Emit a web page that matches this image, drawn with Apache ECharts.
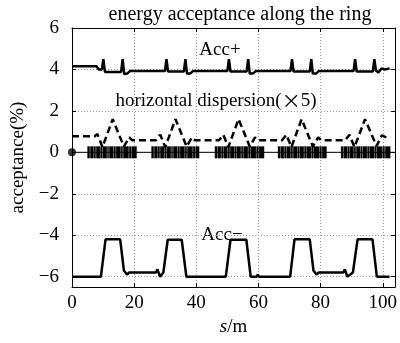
<!DOCTYPE html>
<html>
<head>
<meta charset="utf-8">
<script src="https://cdn.jsdelivr.net/npm/echarts@6/dist/echarts.min.js"></script>
<style>
  html, body { margin: 0; padding: 0; background: #fff; }
  #main { width: 400px; height: 343px; }
</style>
</head>
<body>
<div id="main"></div>
<script>
// s (m) and acceptance (%)
var accPlus = [
  [0, 4.15], [7.9, 4.15], [8.6, 4.0], [9.6, 4.0], [10.1, 4.5], [10.6, 3.88], [15.8, 3.88], [16.3, 4.5], [16.8, 3.78], [17.8, 3.8], [18.6, 3.92],
  [29.9, 3.92], [30.4, 4.5], [30.9, 3.9], [36.0, 3.9], [36.5, 4.5], [37.0, 3.8], [38.0, 3.8], [38.9, 3.92],
  [50.0, 3.92], [50.5, 4.5], [51.0, 3.9], [56.2, 3.9], [56.7, 4.5], [57.2, 3.8], [58.2, 3.8], [59.1, 3.92],
  [70.3, 3.92], [70.8, 4.5], [71.3, 3.9], [76.5, 3.9], [77.0, 4.5], [77.5, 3.8], [78.5, 3.8], [79.4, 3.92],
  [90.6, 3.92], [91.1, 4.5], [91.6, 3.9], [96.8, 3.9], [97.3, 4.5], [97.8, 3.95], [98.6, 3.85], [99.6, 4.05], [100.5, 4.0], [102.2, 4.05]
];

var dispersion5 = [
  [0, 0.78], [7.3, 0.78], [8.2, 0.88], [9.8, 0.25], [13.1, 1.6], [16.7, 0.28], [18.4, 0.72], [19.4, 0.58],
  [27.0, 0.58], [28.4, 0.85], [30.0, 0.25], [33.3, 1.6], [36.9, 0.28], [38.6, 0.72], [39.6, 0.58],
  [47.3, 0.58], [48.7, 0.85], [50.3, 0.25], [53.6, 1.6], [57.2, 0.28], [58.9, 0.72], [59.9, 0.58],
  [67.6, 0.58], [69.0, 0.85], [70.6, 0.25], [73.9, 1.6], [77.5, 0.28], [79.2, 0.72], [80.2, 0.58],
  [87.9, 0.58], [89.3, 0.85], [90.9, 0.25], [94.3, 1.6], [98.0, 0.3], [99.7, 0.82], [101.8, 0.68]
];

var accMinus = [
  [0, -6.0], [9.3, -6.0], [10.8, -4.2], [15.5, -4.2], [16.7, -5.7], [17.2, -5.75], [17.7, -5.9], [18.4, -5.8],
  [27.0, -5.8], [27.5, -5.65], [28.3, -6.0], [28.8, -5.95], [29.4, -5.8], [30.8, -4.22], [35.3, -4.22], [36.8, -6.0],
  [49.5, -6.0], [51.0, -4.22], [56.1, -4.22], [57.5, -6.0], [59.4, -6.0], [59.8, -5.9], [60.2, -6.0],
  [70.2, -6.0], [71.6, -4.2], [76.5, -4.2], [77.7, -5.7], [78.2, -5.8], [78.7, -5.9], [79.4, -5.8],
  [87.3, -5.8], [87.8, -5.65], [88.6, -6.0], [89.2, -5.95], [90.4, -5.8], [91.9, -4.2], [96.7, -4.2], [98.1, -6.0], [102.2, -6.0]
];

// magnet elements along the ring: [start, end] in m
var magnets = [
  [5.0, 5.7], [5.9, 6.9], [7.1, 7.6], [7.8, 9.0], [9.2, 9.7], [9.9, 11.2], [11.4, 11.8], [12.0, 13.3], [13.5, 14.0], [14.2, 15.6], [15.8, 16.3], [16.5, 18.2], [18.4, 19.0], [19.2, 20.8],
  [25.6, 26.3], [26.5, 27.5], [27.7, 28.2], [28.4, 29.6], [29.8, 30.3], [30.5, 31.8], [32.0, 32.4], [32.6, 33.9], [34.1, 34.6], [34.8, 36.2], [36.4, 36.9], [37.1, 38.8], [39.0, 39.6], [39.8, 40.9],
  [46.0, 46.7], [46.9, 47.9], [48.1, 48.6], [48.8, 50.0], [50.2, 50.7], [50.9, 52.2], [52.4, 52.8], [53.0, 54.3], [54.5, 55.0], [55.2, 56.6], [56.8, 57.3], [57.5, 59.2], [59.4, 60.0], [60.2, 61.8],
  [66.3, 67.0], [67.2, 68.2], [68.4, 68.9], [69.1, 70.3], [70.5, 71.0], [71.2, 72.5], [72.7, 73.1], [73.3, 74.6], [74.8, 75.3], [75.5, 76.9], [77.1, 77.6], [77.8, 79.5], [79.7, 80.3], [80.5, 81.9],
  [86.6, 87.3], [87.5, 88.5], [88.7, 89.2], [89.4, 90.6], [90.8, 91.3], [91.5, 92.8], [93.0, 93.4], [93.6, 94.9], [95.1, 95.6], [95.8, 97.2], [97.4, 97.9], [98.1, 99.8], [100.0, 100.6], [100.8, 102.4]
];
var magnetHalf = 0.28;

var zeroLine = [[0, 0], [104, 0]];

var xTicks = [0, 20, 40, 60, 80, 100];
var yTicks = [-6, -4, -2, 0, 2, 4, 6];

var FONT = '"Liberation Serif", "Times New Roman", serif';
var CJK = '"Noto Sans CJK SC"';

var chart = echarts.init(document.getElementById('main'), null, { renderer: 'canvas' });

var gridLine = { show: true, lineStyle: { color: '#9a9a9a', type: [1, 2], width: 1 } };
var axLine = { show: true, onZero: false, lineStyle: { color: '#000', width: 1 } };

var option = {
  animation: false,
  backgroundColor: '#fff',
  grid: { left: 72, right: 2, top: 28, bottom: 56 },
  xAxis: [{
    type: 'value', min: 0, max: 104, position: 'bottom',
    axisLine: axLine,
    axisTick: { show: true, inside: true, length: 4, customValues: xTicks, lineStyle: { color: '#000' } },
    axisLabel: { customValues: xTicks, margin: 7, color: '#000', fontFamily: FONT, fontSize: 19 },
    splitLine: gridLine,
    name: '{i|s}/m', nameLocation: 'middle', nameGap: 27,
    nameTextStyle: { color: '#000', fontFamily: FONT, fontSize: 19,
      rich: { i: { fontStyle: 'italic', fontFamily: FONT, fontSize: 19, color: '#000' } } }
  }, {
    type: 'value', min: 0, max: 104, position: 'top',
    axisLine: axLine,
    axisTick: { show: true, inside: true, length: 4, customValues: xTicks, lineStyle: { color: '#000' } },
    axisLabel: { show: false },
    splitLine: { show: false }
  }],
  yAxis: [{
    type: 'value', min: -6.5, max: 6, position: 'left',
    axisLine: axLine,
    axisTick: { show: true, inside: true, length: 4, customValues: yTicks, lineStyle: { color: '#000' } },
    axisLabel: { customValues: yTicks, margin: 13, color: '#000', fontFamily: FONT, fontSize: 19,
      formatter: function (v) { return String(v).replace('-', '\u2212'); } },
    splitLine: gridLine,
    name: 'acceptance(%)', nameLocation: 'middle', nameGap: 37,
    nameTextStyle: { color: '#000', fontFamily: FONT, fontSize: 19 }
  }, {
    type: 'value', min: -6.5, max: 6, position: 'right',
    axisLine: axLine,
    axisTick: { show: true, inside: true, length: 4, customValues: yTicks, lineStyle: { color: '#000' } },
    axisLabel: { show: false },
    splitLine: { show: false }
  }],
  graphic: [
    { type: 'text', style: { x: 240, y: 15, text: 'energy acceptance along the ring', textAlign: 'center', textVerticalAlign: 'middle', font: '20px ' + FONT, fill: '#000' } },
    { type: 'text', style: { x: 220, y: 50, text: 'Acc+', textAlign: 'center', textVerticalAlign: 'middle', font: '19px ' + FONT, fill: '#000' } },
    { type: 'text', style: { x: 216, y: 101, text: '{a|horizontal dispersion(}{b|\u00d7}{a|5)}', textAlign: 'center', textVerticalAlign: 'middle',
      rich: {
        a: { fontFamily: FONT, fontSize: 19, fill: '#000' },
        b: { fontFamily: CJK, fontSize: 19, fill: '#000' }
      } } },
    { type: 'text', style: { x: 222, y: 235, text: 'Acc\u2212', textAlign: 'center', textVerticalAlign: 'middle', font: '19px ' + FONT, fill: '#000' } }
  ],
  series: [
    {
      name: 'zero', type: 'line', data: zeroLine, showSymbol: false, silent: true,
      lineStyle: { color: '#000', width: 1 }, z: 2
    },
    {
      name: 'origin', type: 'scatter', data: [[0, 0]], symbol: 'circle', symbolSize: 8,
      itemStyle: { color: '#000' }, z: 6
    },
    {
      name: 'magnets', type: 'custom', data: magnets, z: 3,
      renderItem: function (params, api) {
        var p0 = api.coord([api.value(0), magnetHalf]);
        var p1 = api.coord([api.value(1), -magnetHalf]);
        return { type: 'rect', shape: { x: p0[0], y: p0[1], width: p1[0] - p0[0], height: p1[1] - p0[1] },
          style: { fill: '#000', stroke: '#222', lineWidth: 0.4 } };
      }
    },
    {
      name: 'Acc+', type: 'line', data: accPlus, showSymbol: false,
      lineStyle: { color: '#000', width: 2.5 }, z: 4
    },
    {
      name: 'dispersion', type: 'line', data: dispersion5, showSymbol: false,
      lineStyle: { color: '#000', width: 2.5, type: [7, 4] }, z: 5
    },
    {
      name: 'Acc-', type: 'line', data: accMinus, showSymbol: false,
      lineStyle: { color: '#000', width: 2.5 }, z: 4
    }
  ]
};

chart.setOption(option);
</script>
</body>
</html>
